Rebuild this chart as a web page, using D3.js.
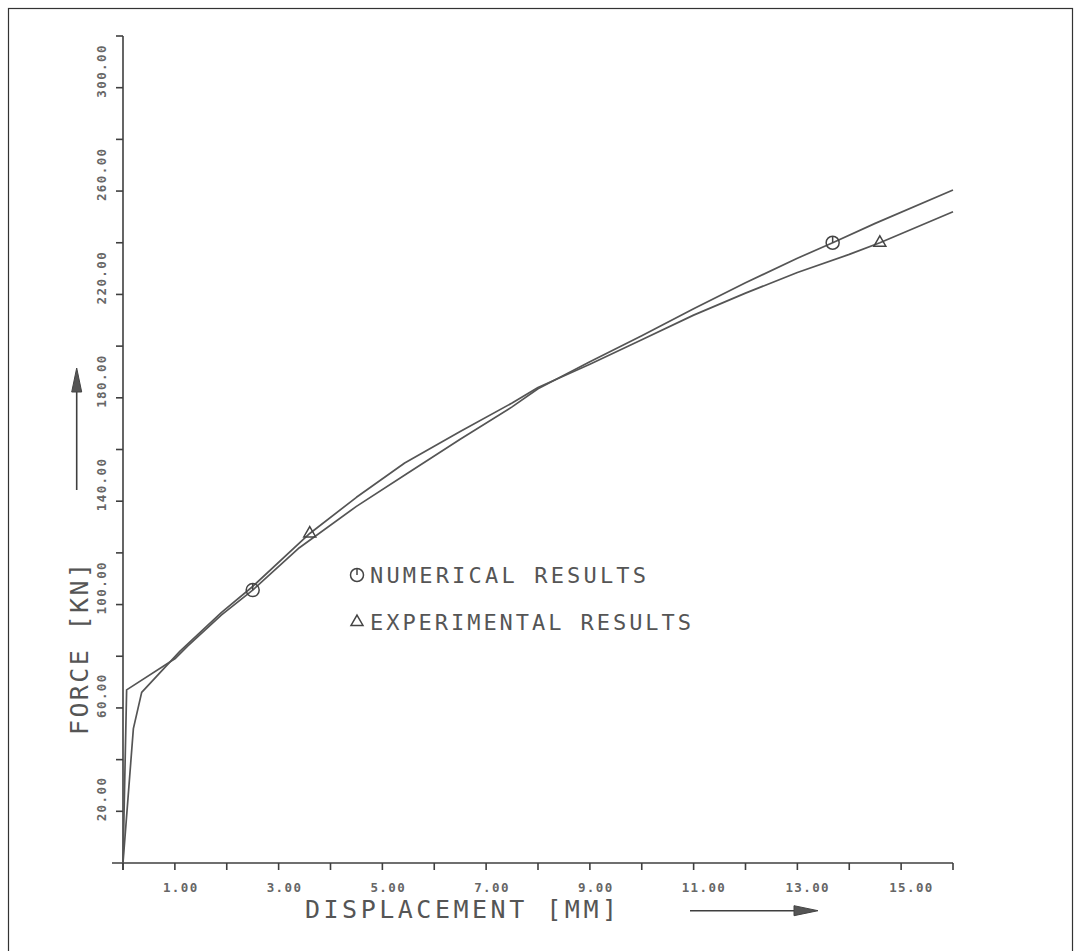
<!DOCTYPE html>
<html>
<head>
<meta charset="utf-8">
<script src="https://cdn.jsdelivr.net/npm/d3@7/dist/d3.min.js"></script>
<style>
  body { margin: 0; background: #fff; }
  svg { display: block; }
  .axis-line, .tick { stroke: #3f3f3f; stroke-width: 1.6; fill: none; }
  .curve { stroke: #555; stroke-width: 1.7; fill: none; stroke-linejoin: round; }
  .marker { stroke: #444; stroke-width: 1.5; fill: none; }
  text { fill: #555; font-family: "DejaVu Sans Mono", "Liberation Mono", monospace; }
  .tick-label { font-size: 12.5px; font-weight: bold; fill: #666; letter-spacing: 1.4px; }
  .title { font-size: 25px; }
  .legend-text { font-size: 22px; }
</style>
</head>
<body>
<div id="chart"></div>
<script>
// numerical results (displacement mm, force kN)
const numericalDisp  = [0, 0.07, 1.0, 1.25, 1.9, 2.5, 3.4, 4.5, 5.5, 6.5, 7.5, 8.0, 9, 10, 11, 12, 13, 13.68, 14.5, 16];
const numericalForce = [0, 67, 79, 84, 96, 105.6, 122, 138, 151, 164, 176.5, 183.5, 194, 204, 214.5, 224.5, 234, 240, 247.5, 260.4];

// experimental results
const experimentalDisp  = [0, 0.2, 0.36, 1.1, 1.9, 2.5, 3.6, 4.5, 5.43, 6.5, 7.5, 8.0, 9, 10, 11, 12, 13, 14, 14.59, 16];
const experimentalForce = [0, 52, 66, 82, 97, 107, 127.5, 141.5, 154.8, 167, 178, 184, 193, 202.5, 212, 220.5, 228.5, 235.5, 240, 252];

// markers drawn on the curves
const circleMarkers   = [[2.5, 105.6], [13.68, 240]];
const triangleMarkers = [[3.6, 127.5], [14.59, 240]];

// axis ticks and labels
const xTicks = d3.range(0, 17, 1);
const xLabelValues = [1, 3, 5, 7, 9, 11, 13, 15];
const xTickLabels = ['1.00', '3.00', '5.00', '7.00', '9.00', '11.00', '13.00', '15.00'];
const yTicks = d3.range(0, 321, 20);
const yLabelValues = [20, 60, 100, 140, 180, 220, 260, 300];
const yTickLabels = ['20.00', '60.00', '100.00', '140.00', '180.00', '220.00', '260.00', '300.00'];

const legendLabels = ['NUMERICAL RESULTS', 'EXPERIMENTAL RESULTS'];

const width = 1081, height = 951;

const svg = d3.select('#chart')
    .append('svg')
    .attr('width', width)
    .attr('height', height);

// scan frame
svg.append('rect')
    .attr('x', 8.5).attr('y', 8.5)
    .attr('width', 1064).attr('height', 960)
    .attr('fill', 'none')
    .attr('stroke', '#333')
    .attr('stroke-width', 1.2);

const x = d3.scaleLinear().domain([0, 16]).range([123, 953]);
const y = d3.scaleLinear().domain([0, 320]).range([863, 36]);

const g = svg.append('g');

// axes
g.append('line').attr('class', 'axis-line')
    .attr('x1', x(0) - 11).attr('x2', x(16))
    .attr('y1', y(0)).attr('y2', y(0));
g.append('line').attr('class', 'axis-line')
    .attr('x1', x(0)).attr('x2', x(0))
    .attr('y1', y(0) + 7).attr('y2', y(320));

g.selectAll('.xtick')
    .data(xTicks)
    .enter()
    .append('line')
    .attr('class', 'tick')
    .attr('x1', d => x(d)).attr('x2', d => x(d))
    .attr('y1', y(0)).attr('y2', y(0) + 7);

g.selectAll('.ytick')
    .data(yTicks.filter(d => d > 0))
    .enter()
    .append('line')
    .attr('class', 'tick')
    .attr('x1', x(0) - 7).attr('x2', x(0))
    .attr('y1', d => y(d)).attr('y2', d => y(d));

// tick labels (plotter style: start a little before the tick)
g.selectAll('.xlabel')
    .data(xLabelValues)
    .enter()
    .append('text')
    .attr('class', 'tick-label')
    .attr('x', d => x(d) - 12)
    .attr('y', y(0) + 29)
    .text((d, i) => xTickLabels[i]);

g.selectAll('.ylabel')
    .data(yLabelValues)
    .enter()
    .append('text')
    .attr('class', 'tick-label')
    .attr('transform', d => `translate(${x(0) - 17},${y(d) + 10}) rotate(-90)`)
    .text((d, i) => yTickLabels[i]);

// axis titles
g.append('text')
    .attr('class', 'title')
    .attr('x', 305)
    .attr('y', 918)
    .attr('textLength', 312)
    .attr('lengthAdjust', 'spacing')
    .text('DISPLACEMENT  [MM]');

g.append('text')
    .attr('class', 'title')
    .attr('transform', 'translate(88,735) rotate(-90)')
    .attr('textLength', 172)
    .attr('lengthAdjust', 'spacing')
    .text('FORCE [KN]');

// direction arrows
function arrow(x1, y1, x2, y2) {
    const ang = Math.atan2(y2 - y1, x2 - x1);
    const len = 24, half = 5;
    const bx = x2 - len * Math.cos(ang), by = y2 - len * Math.sin(ang);
    g.append('line').attr('class', 'axis-line')
        .attr('x1', x1).attr('y1', y1).attr('x2', bx).attr('y2', by);
    const px = -Math.sin(ang) * half, py = Math.cos(ang) * half;
    g.append('path')
        .attr('d', `M${x2},${y2}L${bx + px},${by + py}L${bx - px},${by - py}Z`)
        .attr('fill', '#555')
        .attr('stroke', '#444')
        .attr('stroke-width', 1);
}
arrow(76.7, 490, 76.7, 368);
arrow(690, 910.7, 818, 910.7);

// curves
const line = d3.line().x(d => x(d[0])).y(d => y(d[1]));
const numerical = numericalDisp.map((d, i) => [d, numericalForce[i]]);
const experimental = experimentalDisp.map((d, i) => [d, experimentalForce[i]]);

g.append('path').attr('class', 'curve').attr('d', line(numerical));
g.append('path').attr('class', 'curve').attr('d', line(experimental));

// marker glyphs
function drawCircleMark(cx, cy) {
    const r = 6.5;
    g.append('circle').attr('class', 'marker')
        .attr('cx', cx).attr('cy', cy).attr('r', r)
        .attr('fill', '#fff');
    g.append('line').attr('class', 'marker')
        .attr('x1', cx).attr('x2', cx)
        .attr('y1', cy - r).attr('y2', cy);
}

function drawTriangleMark(cx, cy) {
    g.append('path').attr('class', 'marker')
        .attr('transform', `translate(${cx},${cy})`)
        .attr('fill', '#fff')
        .attr('d', d3.symbol(d3.symbolTriangle, 62)());
}

circleMarkers.forEach(d => drawCircleMark(x(d[0]), y(d[1])));
triangleMarkers.forEach(d => drawTriangleMark(x(d[0]), y(d[1])));

// legend
drawCircleMark(357, 575);
drawTriangleMark(357, 622);

g.append('text')
    .attr('class', 'legend-text')
    .attr('x', 370).attr('y', 583)
    .attr('textLength', 276)
    .attr('lengthAdjust', 'spacing')
    .text(legendLabels[0]);

g.append('text')
    .attr('class', 'legend-text')
    .attr('x', 370).attr('y', 630)
    .attr('textLength', 321)
    .attr('lengthAdjust', 'spacing')
    .text(legendLabels[1]);
</script>
</body>
</html>
